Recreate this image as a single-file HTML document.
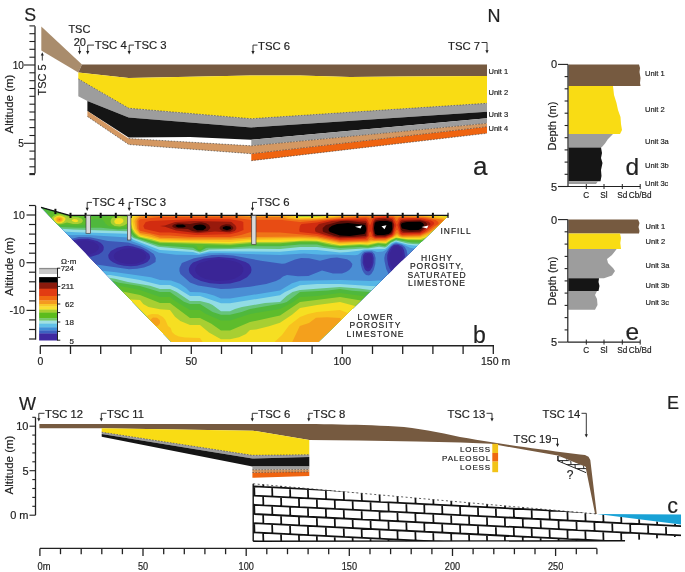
<!DOCTYPE html>
<html><head><meta charset="utf-8"><style>
html,body{margin:0;padding:0;background:#fff;}
body{width:685px;height:572px;overflow:hidden;}
svg{display:block;font-family:"Liberation Sans", Arial, sans-serif;}
text{stroke:#222;stroke-width:0.18px;}
</style></head><body>
<svg width="685" height="572" viewBox="0 0 685 572">
<rect width="685" height="572" fill="#fff"/>
<polygon points="41.3,26.5 82.0,64.4 78.3,72.4 41.3,50.5" fill="#a98c6c" />
<polygon points="82.0,64.4 487.0,64.4 487.0,76.0 400.0,76.5 350.0,77.0 300.0,75.5 250.0,75.5 190.0,76.7 128.7,77.9 78.3,72.4" fill="#765a40" />
<polygon points="78.3,72.4 128.7,77.9 190.0,76.7 250.0,75.5 300.0,75.5 350.0,77.0 400.0,76.5 487.0,76.0 487.0,103.3 251.3,118.7 128.7,108.2 78.3,78.9" fill="#f9dc14" />
<polygon points="78.3,78.9 128.7,108.2 251.3,118.7 487.0,103.3 487.0,111.7 251.3,127.4 128.7,117.4 87.4,100.9 78.3,96.3" fill="#9d9d9d" />
<polygon points="87.4,100.9 128.7,117.4 251.3,127.4 487.0,111.7 487.0,118.3 251.3,139.7 190.0,137.0 128.7,137.6 87.4,111.0" fill="#151515" />
<polygon points="251.3,139.7 487.0,118.3 487.0,123.3 251.3,145.8" fill="#9d9d9d" />
<polygon points="87.4,111.0 128.7,138.5 251.3,145.8 487.0,123.3 487.0,126.7 251.3,153.7 128.7,144.5 87.4,116.5" fill="#d49862" />
<polygon points="251.3,153.7 487.0,126.7 487.0,133.3 251.3,160.7" fill="#ef6410" />
<polyline points="78.3,78.9 128.7,108.2 251.3,118.7 487.0,103.3" fill="none" stroke="#3a3a3a" stroke-width="0.6" stroke-dasharray="1.6,1.4"/>
<polyline points="251.3,145.8 487.0,123.3" fill="none" stroke="#3a3a3a" stroke-width="0.6" stroke-dasharray="1.6,1.4"/>
<polyline points="87.4,116.5 128.7,144.5 251.3,153.7 487.0,126.7" fill="none" stroke="#3a3a3a" stroke-width="0.6" stroke-dasharray="1.6,1.4"/>
<polyline points="251.3,160.7 487.0,133.3" fill="none" stroke="#3a3a3a" stroke-width="0.6" stroke-dasharray="1.6,1.4"/>
<polyline points="128.7,138.5 251.3,145.8" fill="none" stroke="#3a3a3a" stroke-width="0.6" stroke-dasharray="1.6,1.4"/>
<line x1="35.0" y1="26.2" x2="35.0" y2="173.6" stroke="#222" stroke-width="1.3" />
<line x1="29.4" y1="25.9" x2="35.0" y2="25.9" stroke="#222" stroke-width="1.1" />
<line x1="29.4" y1="33.7" x2="35.0" y2="33.7" stroke="#222" stroke-width="1.1" />
<line x1="29.4" y1="41.5" x2="35.0" y2="41.5" stroke="#222" stroke-width="1.1" />
<line x1="29.4" y1="49.3" x2="35.0" y2="49.3" stroke="#222" stroke-width="1.1" />
<line x1="29.4" y1="57.2" x2="35.0" y2="57.2" stroke="#222" stroke-width="1.1" />
<line x1="23.8" y1="65.0" x2="35.0" y2="65.0" stroke="#222" stroke-width="1.1" />
<line x1="29.4" y1="72.8" x2="35.0" y2="72.8" stroke="#222" stroke-width="1.1" />
<line x1="29.4" y1="80.7" x2="35.0" y2="80.7" stroke="#222" stroke-width="1.1" />
<line x1="29.4" y1="88.5" x2="35.0" y2="88.5" stroke="#222" stroke-width="1.1" />
<line x1="29.4" y1="96.3" x2="35.0" y2="96.3" stroke="#222" stroke-width="1.1" />
<line x1="29.4" y1="104.2" x2="35.0" y2="104.2" stroke="#222" stroke-width="1.1" />
<line x1="29.4" y1="112.0" x2="35.0" y2="112.0" stroke="#222" stroke-width="1.1" />
<line x1="29.4" y1="119.8" x2="35.0" y2="119.8" stroke="#222" stroke-width="1.1" />
<line x1="29.4" y1="127.6" x2="35.0" y2="127.6" stroke="#222" stroke-width="1.1" />
<line x1="29.4" y1="135.5" x2="35.0" y2="135.5" stroke="#222" stroke-width="1.1" />
<line x1="23.8" y1="143.3" x2="35.0" y2="143.3" stroke="#222" stroke-width="1.1" />
<line x1="29.4" y1="151.1" x2="35.0" y2="151.1" stroke="#222" stroke-width="1.1" />
<line x1="29.4" y1="159.0" x2="35.0" y2="159.0" stroke="#222" stroke-width="1.1" />
<line x1="29.4" y1="166.8" x2="35.0" y2="166.8" stroke="#222" stroke-width="1.1" />
<line x1="29.4" y1="174.6" x2="35.0" y2="174.6" stroke="#222" stroke-width="1.1" />
<line x1="29.4" y1="173.6" x2="35.0" y2="173.6" stroke="#222" stroke-width="1.1" />
<text x="23.8" y="68.6" font-size="10" text-anchor="end" fill="#222" >10</text>
<text x="23.8" y="146.9" font-size="10" text-anchor="end" fill="#222" >5</text>
<text x="0" y="0" font-size="11.5" text-anchor="middle" fill="#222" transform="translate(13,104) rotate(-90)">Altitude (m)</text>
<text x="0" y="0" font-size="11" text-anchor="middle" fill="#222" transform="translate(46,80) rotate(-90)">TSC 5</text>
<line x1="42.3" y1="60.5" x2="42.3" y2="54.5" stroke="#222" stroke-width="0.9" />
<polygon points="40.8,55.5 43.8,55.5 42.3,52.3" fill="#222"/>
<text x="24.3" y="20.6" font-size="17.8" text-anchor="start" fill="#222" >S</text>
<text x="487.5" y="22.0" font-size="18" text-anchor="start" fill="#222" >N</text>
<text x="68.4" y="32.5" font-size="11" text-anchor="start" fill="#222" >TSC</text>
<text x="73.7" y="45.7" font-size="11" text-anchor="start" fill="#222" >20</text>
<line x1="79.6" y1="46.5" x2="79.6" y2="51.9" stroke="#222" stroke-width="0.9" />
<polygon points="78.0,51.1 81.2,51.1 79.6,54.4" fill="#222"/>
<line x1="87.7" y1="45.1" x2="94.0" y2="45.1" stroke="#222" stroke-width="0.9" />
<line x1="87.7" y1="45.1" x2="87.7" y2="51.9" stroke="#222" stroke-width="0.9" />
<polygon points="86.1,51.1 89.3,51.1 87.7,54.4" fill="#222"/>
<text x="94.7" y="49.2" font-size="11.3" text-anchor="start" fill="#222" >TSC 4</text>
<line x1="129.2" y1="45.1" x2="134.0" y2="45.1" stroke="#222" stroke-width="0.9" />
<line x1="129.2" y1="45.1" x2="129.2" y2="51.9" stroke="#222" stroke-width="0.9" />
<polygon points="127.6,51.1 130.8,51.1 129.2,54.4" fill="#222"/>
<text x="134.5" y="49.2" font-size="11.3" text-anchor="start" fill="#222" >TSC 3</text>
<line x1="253.0" y1="45.1" x2="257.5" y2="45.1" stroke="#222" stroke-width="0.9" />
<line x1="253.0" y1="45.1" x2="253.0" y2="51.9" stroke="#222" stroke-width="0.9" />
<polygon points="251.4,51.1 254.6,51.1 253.0,54.4" fill="#222"/>
<text x="258.0" y="49.5" font-size="11.3" text-anchor="start" fill="#222" >TSC 6</text>
<text x="448.0" y="49.5" font-size="11.3" text-anchor="start" fill="#222" >TSC 7</text>
<line x1="481.5" y1="42.5" x2="487.0" y2="42.5" stroke="#222" stroke-width="0.9" />
<line x1="487.0" y1="42.5" x2="487.0" y2="51.0" stroke="#222" stroke-width="0.9" />
<polygon points="485.4,50.2 488.6,50.2 487.0,53.5" fill="#222"/>
<text x="488.5" y="73.7" font-size="7.5" text-anchor="start" fill="#222" >Unit 1</text>
<text x="488.5" y="95.0" font-size="7.5" text-anchor="start" fill="#222" >Unit 2</text>
<text x="488.5" y="117.0" font-size="7.5" text-anchor="start" fill="#222" >Unit 3</text>
<text x="488.5" y="131.0" font-size="7.5" text-anchor="start" fill="#222" >Unit 4</text>
<text x="473.0" y="175.0" font-size="26" text-anchor="start" fill="#222" >a</text>
<clipPath id="secclip"><polygon points="41.0,207.3 69.5,215.4 447.3,215.4 447.3,216.7 318.3,342.0 171.5,342.0"/></clipPath>
<g clip-path="url(#secclip)">
<rect x="36" y="203" width="416" height="143" fill="#3a2596"/>
<path d="M37.0 203.0L451.0 203.0L451.0 345.0L36.0 345.0L36.0 203.0L37.0 203.0ZM78.1 241.0L73.0 243.5L70.8 247.0L72.0 250.5L76.0 253.2L83.0 254.8L90.0 254.3L95.9 252.0L98.6 249.0L98.9 247.0L98.1 245.0L93.8 242.0L86.0 240.3L78.1 241.0ZM393.4 247.0L389.9 253.0L389.4 259.0L390.2 263.0L392.0 267.0L394.0 269.0L396.0 269.6L399.0 268.2L401.1 265.0L402.5 260.0L402.6 254.0L401.7 250.0L399.4 247.0L396.0 246.1L393.4 247.0ZM122.7 249.0L116.2 252.0L114.4 254.0L113.7 256.0L114.1 258.0L115.6 260.0L120.0 262.5L128.0 264.1L136.0 263.7L143.0 261.3L146.1 258.0L146.2 256.0L145.4 254.0L143.4 252.0L140.0 250.1L130.0 248.2L122.7 249.0ZM367.4 254.0L364.6 256.0L363.9 261.0L365.1 266.0L366.8 268.0L368.0 268.4L370.0 267.3L371.0 265.7L372.1 262.0L372.2 258.0L371.0 254.9L370.0 254.1L367.4 254.0ZM209.9 260.0L199.8 263.0L197.3 265.0L195.4 268.0L195.3 271.0L197.0 274.0L200.9 277.0L205.7 279.0L217.0 280.9L229.5 280.0L235.0 278.4L239.0 276.3L241.7 274.0L243.3 271.0L243.3 268.0L241.5 265.0L238.8 263.0L235.0 261.5L223.0 259.3L209.9 260.0Z" fill="#3b2a9e"/>
<path d="M37.0 203.0L451.0 203.0L451.0 345.0L36.0 345.0L36.0 203.0L37.0 203.0ZM78.6 239.0L74.3 240.0L71.0 241.6L68.3 244.0L67.2 246.0L67.2 249.0L68.2 251.0L73.0 254.6L81.0 256.8L91.0 256.7L99.0 254.2L102.1 252.0L103.5 250.0L103.8 247.0L102.8 245.0L100.9 243.0L97.1 241.0L88.0 238.8L78.6 239.0ZM393.9 245.0L391.4 247.0L388.3 252.0L387.3 255.0L387.2 259.0L388.2 265.0L390.0 269.3L393.0 272.9L396.0 273.9L399.0 272.9L402.2 269.0L404.3 263.0L405.0 256.0L404.0 250.0L402.3 247.0L398.0 244.8L393.9 245.0ZM124.8 246.0L117.0 247.7L110.8 251.0L108.2 255.0L108.6 258.0L109.9 260.0L113.0 262.3L118.0 264.5L124.0 265.8L131.0 266.2L137.0 265.7L143.0 264.1L147.3 262.0L149.8 259.0L150.2 257.0L149.2 254.0L143.0 249.5L133.0 246.6L128.0 245.8L124.8 246.0ZM365.2 253.0L363.9 254.0L362.9 256.0L362.6 263.0L364.6 269.0L366.0 270.7L368.0 271.5L370.0 270.7L372.4 267.0L373.5 263.0L373.7 258.0L372.6 254.0L371.4 253.0L369.0 252.5L365.2 253.0ZM218.7 257.0L204.0 258.6L193.0 262.6L190.5 265.0L189.0 268.0L188.8 270.0L189.6 273.0L194.0 277.7L201.0 281.1L210.0 283.3L220.0 284.1L230.0 283.4L240.0 280.9L247.0 277.3L250.8 273.0L251.5 270.0L251.0 267.0L249.0 264.0L245.5 262.0L234.0 258.3L218.7 257.0Z" fill="#3e58b8"/>
<path d="M37.0 203.0L451.0 203.0L451.0 345.0L36.0 345.0L36.0 203.0L37.0 203.0ZM78.9 237.0L66.8 240.0L62.4 244.0L60.9 248.0L61.6 252.0L64.0 255.2L69.0 258.7L76.0 261.6L129.0 269.3L137.0 268.8L144.0 267.5L150.0 265.3L155.5 262.0L155.8 258.0L153.8 254.0L147.0 249.4L140.0 246.3L128.0 242.6L108.0 241.0L90.0 237.2L78.9 237.0ZM393.8 244.0L390.1 247.0L385.1 254.0L384.3 258.0L384.5 261.0L386.2 269.0L389.1 275.0L393.0 277.1L397.0 277.6L402.0 275.7L404.6 272.0L406.9 265.0L407.8 256.0L406.5 250.0L404.7 247.0L402.1 245.0L399.0 243.9L396.0 243.4L393.8 244.0ZM364.2 252.0L362.1 254.0L361.3 256.0L360.6 260.0L360.9 265.0L362.3 270.0L364.0 273.0L366.0 274.9L369.0 275.4L371.2 274.0L373.7 270.0L375.3 264.0L375.6 258.0L374.5 254.0L372.0 251.6L367.0 251.4L364.2 252.0ZM211.9 255.0L194.0 258.2L181.9 263.0L179.5 268.0L179.4 271.0L180.4 274.0L190.0 282.4L198.0 285.5L221.0 288.9L230.0 288.7L250.0 286.8L266.2 284.0L276.0 280.9L280.0 278.9L283.0 276.5L287.0 274.9L298.0 276.2L308.4 276.0L322.0 270.4L333.0 273.6L342.0 273.4L346.0 272.0L349.2 270.0L351.7 267.0L352.4 264.0L350.0 261.0L347.0 259.3L337.0 257.6L330.7 258.0L320.0 260.8L309.0 258.3L301.0 258.1L295.0 259.4L285.0 263.4L282.0 263.7L261.0 260.7L233.0 255.5L223.0 254.8L211.9 255.0Z" fill="#4a8ed4"/>
<path d="M37.0 203.0L451.0 203.0L451.0 238.0L450.0 238.1L447.9 241.0L445.0 243.4L440.0 245.9L435.0 247.2L420.0 249.8L410.0 247.7L402.0 243.9L396.0 242.4L392.0 244.0L387.0 249.2L383.0 251.5L377.0 252.0L372.0 250.3L365.0 250.5L363.0 251.0L358.0 254.8L355.0 255.2L334.0 254.4L322.0 254.8L304.0 253.4L280.0 255.1L221.0 252.9L208.0 253.3L199.0 255.1L176.0 254.8L159.0 252.8L142.0 245.0L132.0 241.3L128.0 237.6L88.0 235.0L64.0 235.2L36.0 234.0L36.0 203.0L37.0 203.0ZM77.0 269.0L84.9 269.0L116.0 272.2L151.0 277.3L160.0 280.1L171.0 280.5L180.0 283.8L186.0 288.1L190.0 292.1L200.0 292.3L206.0 293.3L214.0 295.4L221.0 298.5L230.0 298.5L280.0 290.5L292.0 283.2L300.0 280.8L340.0 280.1L370.0 281.1L385.0 280.3L405.0 282.0L411.1 285.0L411.1 345.0L67.1 345.0L67.4 272.0L71.0 270.2L77.0 269.0Z" fill="#55b6e6"/>
<path d="M37.0 203.0L451.0 203.0L451.0 232.8L448.5 234.0L444.6 239.0L440.0 241.7L432.0 244.2L420.0 246.2L408.0 244.8L396.0 241.5L392.0 243.0L385.0 248.9L364.0 249.5L359.0 250.8L348.0 252.0L340.0 252.4L317.0 250.0L300.0 249.9L280.0 251.7L210.0 251.2L199.0 253.7L193.0 251.9L160.0 249.9L134.0 240.0L130.0 237.2L128.0 233.8L76.0 232.2L36.0 230.0L36.0 203.0L37.0 203.0ZM81.0 276.0L86.0 275.3L110.0 275.1L140.0 280.0L160.0 285.0L170.0 285.1L177.0 288.1L190.0 296.0L200.0 296.1L221.0 303.3L230.0 303.3L280.0 295.2L285.0 292.0L300.0 285.3L317.0 284.1L340.0 284.0L370.0 286.0L391.0 286.4L394.2 288.0L394.9 291.0L395.0 345.0L80.0 345.0L80.0 280.0L80.3 277.0L81.0 276.0Z" fill="#92dce4"/>
<path d="M37.0 203.0L451.0 203.0L451.0 230.2L450.0 230.2L440.0 238.8L430.0 242.5L420.0 244.3L413.0 243.9L408.0 243.4L396.0 240.6L391.0 242.8L387.0 246.6L385.0 247.5L379.0 246.8L368.0 248.6L363.0 248.4L340.0 250.0L317.0 247.1L300.0 247.0L280.0 248.9L250.0 248.6L209.0 249.6L200.0 252.4L193.0 250.1L158.0 246.8L134.0 238.3L131.9 237.0L128.0 231.3L73.0 229.6L36.0 227.3L36.0 203.0L37.0 203.0ZM101.0 278.9L110.0 278.0L115.0 278.7L128.0 282.0L150.0 285.7L160.0 289.0L170.0 289.0L176.6 292.0L190.0 301.0L200.0 301.0L209.0 303.3L212.6 305.0L221.0 311.3L230.0 311.3L235.0 308.9L242.0 307.1L265.0 303.0L280.0 302.0L286.5 296.0L292.5 292.0L300.0 290.0L340.0 287.0L359.0 288.4L380.0 291.3L382.5 292.0L385.4 295.0L388.9 303.0L390.0 310.0L390.0 345.0L86.0 345.0L86.0 294.0L88.3 287.0L90.9 283.0L95.0 280.0L101.0 278.9Z" fill="#66c47c"/>
<path d="M37.0 203.0L451.0 203.0L451.0 229.1L447.1 230.0L438.0 237.5L429.0 240.9L420.0 242.8L411.0 242.4L396.0 239.6L391.0 242.0L385.0 246.3L379.0 245.2L368.0 247.6L361.0 247.1L340.0 248.1L324.0 246.3L317.0 244.6L300.0 244.4L280.0 246.3L250.0 246.2L230.0 247.7L208.0 247.7L206.0 248.1L200.0 251.2L198.0 250.8L193.0 247.8L160.0 245.5L150.0 242.6L134.0 237.0L128.0 229.0L118.0 229.4L101.0 227.7L78.0 227.7L59.0 226.9L40.0 223.0L36.0 223.0L36.0 203.0L37.0 203.0ZM107.0 280.9L110.0 280.0L119.0 282.7L140.0 286.0L160.0 292.0L170.0 292.0L184.0 301.7L190.0 304.0L200.0 304.0L212.6 312.0L221.0 314.7L230.0 314.7L241.6 312.0L250.0 309.0L283.0 303.2L286.7 302.0L300.0 292.1L328.0 290.4L340.0 289.0L352.0 290.7L370.0 292.0L375.8 295.0L380.0 298.7L382.5 302.0L384.5 308.0L385.0 310.0L385.0 345.0L92.0 345.0L92.0 294.0L95.0 289.0L98.8 285.0L107.0 280.9Z" fill="#4fb83c"/>
<path d="M128.0 203.0L451.0 203.0L451.0 228.1L444.0 230.0L436.9 236.0L434.0 237.5L424.0 240.7L420.0 241.4L408.0 241.2L396.0 238.7L391.0 241.2L386.0 244.9L378.0 244.2L368.0 246.7L361.0 246.0L340.0 246.7L326.0 245.2L317.0 242.7L300.0 242.5L280.0 244.4L250.0 244.4L230.0 245.9L206.0 245.6L204.0 246.0L201.7 249.0L200.0 249.7L198.2 249.0L196.4 246.0L194.0 245.2L160.0 243.8L139.0 238.1L136.1 237.0L134.0 235.1L128.0 226.8L118.0 227.8L108.4 226.0L105.9 224.0L103.0 220.1L100.0 218.4L94.0 218.4L92.0 219.3L87.3 224.0L76.0 225.7L67.0 224.8L57.0 225.2L53.0 223.7L44.2 218.0L45.0 215.0L46.0 213.9L53.0 211.8L60.0 210.9L91.0 217.6L103.0 217.5L114.0 214.4L126.6 212.0L127.7 210.0L128.0 203.0ZM109.0 284.5L110.0 284.0L140.0 290.0L160.0 297.0L170.0 297.0L175.0 301.0L190.0 310.0L200.0 310.0L205.0 313.4L221.0 320.6L230.0 320.6L250.0 314.0L280.0 309.0L293.3 302.0L300.0 297.0L317.0 296.0L340.0 293.0L370.0 297.0L376.3 302.0L380.0 310.0L380.0 345.0L98.0 345.0L98.0 294.0L103.0 288.6L109.0 284.5Z" fill="#5ebc2c"/>
<path d="M132.0 203.0L293.3 203.0L293.4 214.0L300.0 215.5L317.0 215.3L334.6 214.0L338.8 210.0L340.0 203.0L435.0 203.0L435.1 210.0L436.1 214.0L451.0 215.5L451.0 227.1L441.1 230.0L433.6 236.0L422.0 239.9L408.0 240.1L396.0 238.1L391.0 240.4L386.0 244.0L378.0 243.3L368.0 245.6L361.0 244.9L340.0 246.0L331.5 245.0L317.0 241.7L310.0 241.6L300.0 241.5L280.0 243.2L250.0 243.2L230.0 244.7L160.0 242.8L138.2 237.0L133.8 233.0L128.0 222.9L124.0 225.5L120.0 226.4L114.7 226.0L111.6 224.0L110.6 222.0L110.8 220.0L111.9 218.0L113.0 217.4L119.0 216.1L128.0 216.9L131.9 214.0L132.0 203.0ZM56.0 214.7L60.0 214.1L68.0 216.6L78.0 217.2L82.0 218.8L83.0 221.0L81.4 223.0L78.0 224.1L73.1 224.0L67.0 222.5L61.0 224.2L58.0 224.2L53.4 222.0L51.4 218.0L53.4 216.0L56.0 214.7ZM109.0 289.7L110.0 289.0L140.0 295.0L160.0 303.0L170.0 303.0L190.0 318.0L200.0 318.0L211.0 323.4L221.0 330.5L230.0 330.5L250.0 322.0L280.0 315.5L300.0 302.0L340.0 297.0L370.0 302.0L375.0 310.0L375.0 345.0L104.0 345.0L104.0 294.0L109.0 289.7Z" fill="#a8cf32"/>
<path d="M136.0 203.0L286.7 203.0L286.7 214.0L300.0 216.9L317.0 216.7L350.7 214.0L353.1 212.0L354.2 210.0L355.0 203.0L420.0 203.0L420.4 210.0L421.3 212.0L423.3 214.0L451.0 217.0L451.0 226.1L441.0 228.8L430.3 236.0L420.0 239.2L406.0 239.0L396.0 237.4L391.0 239.6L386.0 242.9L378.0 242.4L368.0 244.5L360.0 244.0L340.0 245.2L317.0 240.8L305.0 240.5L280.0 242.0L250.0 242.0L230.0 243.6L160.0 241.8L151.0 238.9L140.0 236.8L135.4 233.0L132.7 229.0L130.3 222.0L130.2 218.0L136.0 214.0L136.0 203.0ZM57.0 215.9L60.0 215.5L63.0 216.5L65.4 218.0L65.3 220.0L63.6 222.0L61.0 223.2L58.0 223.3L56.0 222.5L54.4 221.0L53.8 218.0L57.0 215.9ZM74.0 218.9L77.0 219.4L78.4 221.0L77.1 222.0L75.0 222.2L72.0 221.0L71.8 220.0L74.0 218.9ZM116.0 218.8L119.0 218.0L122.0 218.6L123.4 220.0L123.3 222.0L120.0 224.2L116.0 223.9L114.7 223.0L114.2 221.0L116.0 218.8ZM111.0 298.0L128.0 298.0L131.0 299.5L140.0 300.0L143.2 304.0L148.5 307.0L160.0 309.3L170.0 309.9L175.0 316.8L180.3 321.0L190.0 325.0L200.0 325.0L209.0 332.5L221.0 339.2L230.0 339.2L239.0 337.3L246.0 334.1L250.0 330.0L256.0 329.4L269.0 326.3L280.0 322.7L292.0 314.7L300.0 308.0L317.0 305.0L340.0 302.0L370.0 310.0L370.0 345.0L110.0 345.0L110.0 299.0L111.0 298.0Z" fill="#f6df22"/>
<path d="M140.0 203.0L280.0 203.0L280.0 214.0L300.0 218.0L317.0 217.7L365.6 214.0L368.8 210.0L369.9 203.0L395.1 203.0L396.3 211.0L395.5 214.0L420.0 214.7L451.0 218.2L451.0 225.1L441.0 227.5L435.9 230.0L434.0 232.0L427.0 236.0L420.0 238.1L403.0 238.1L397.0 236.2L390.6 239.0L386.0 241.9L378.0 241.6L372.0 242.1L367.0 243.5L360.0 243.0L340.0 244.2L317.0 239.7L301.0 239.3L250.0 240.0L230.0 242.0L160.0 240.5L140.0 235.5L136.9 233.0L134.2 229.0L132.3 221.0L133.2 218.0L134.3 217.0L140.0 214.0L140.0 203.0ZM57.0 217.0L60.0 216.5L63.0 217.9L63.4 219.0L62.8 221.0L60.0 222.6L56.9 222.0L55.7 221.0L55.2 219.0L55.4 218.0L57.0 217.0ZM340.0 310.0L349.0 313.4L355.0 318.0L355.0 345.0L271.4 345.0L282.0 334.9L289.0 325.6L300.0 317.0L308.0 314.1L317.0 311.9L340.0 310.0ZM152.0 313.9L158.0 314.3L162.9 317.0L165.4 320.0L168.0 325.9L170.7 328.0L172.0 332.0L175.0 334.8L179.0 336.4L185.0 337.5L200.0 338.0L204.6 345.0L150.0 345.0L152.2 338.0L152.2 336.0L145.0 328.5L143.7 325.0L143.5 322.0L144.3 319.0L145.7 317.0L148.4 315.0L152.0 313.9Z" fill="#f8c21e"/>
<path d="M160.0 203.0L161.0 204.0L164.0 204.0L165.0 203.0L230.0 203.0L230.0 214.0L250.0 215.5L280.0 215.5L291.0 217.9L300.0 218.9L317.0 218.6L340.0 216.4L379.0 214.2L392.0 214.5L397.0 215.8L401.0 215.1L420.0 215.7L451.0 219.3L451.0 224.1L440.0 226.5L434.0 229.7L429.0 233.4L420.0 237.1L402.0 237.3L400.0 236.9L397.0 234.8L386.0 240.9L371.0 241.1L367.0 242.3L360.0 242.1L340.0 243.0L317.0 238.5L300.0 237.8L250.0 238.5L230.0 240.0L190.0 240.0L160.0 239.1L140.0 234.2L135.8 229.0L134.4 221.0L135.4 219.0L137.2 217.0L140.0 215.5L160.0 214.0L160.5 212.0L160.0 203.0ZM58.0 217.6L61.4 218.0L61.9 220.0L61.2 221.0L59.0 221.7L57.2 221.0L56.5 219.0L58.0 217.6ZM153.0 317.6L157.0 317.8L159.7 320.0L160.1 323.0L158.0 325.7L154.0 326.2L150.4 324.0L149.7 322.0L150.0 320.0L153.0 317.6ZM316.0 317.8L327.0 317.3L340.6 318.0L342.1 332.0L340.7 345.0L290.8 345.0L299.8 326.0L309.0 323.1L316.0 317.8Z" fill="#f4a01c"/>
<path d="M154.0 216.0L230.0 215.6L250.0 217.0L280.0 217.0L288.0 218.9L300.0 219.9L317.0 219.6L344.0 217.1L366.0 216.2L370.0 216.6L375.0 215.5L385.0 215.2L392.0 215.6L397.0 217.4L402.0 216.2L425.0 217.1L444.5 220.0L444.6 222.0L443.7 224.0L437.0 226.4L429.1 232.0L420.0 236.1L402.0 236.5L400.0 235.7L397.0 232.9L392.8 237.0L385.0 240.0L374.0 240.2L371.0 239.4L367.0 241.2L340.0 241.9L317.0 237.2L305.0 236.4L250.0 237.0L230.0 238.5L190.0 238.5L160.0 237.7L150.0 234.6L140.0 232.9L137.3 229.0L136.8 226.0L136.5 221.0L137.8 219.0L140.0 217.0L154.0 216.0ZM59.0 218.7L60.2 219.0L60.0 220.2L58.4 220.0L59.0 218.7Z" fill="#ef7418"/>
<path d="M160.0 217.0L230.0 217.2L250.0 219.7L280.0 219.7L300.0 222.0L349.0 217.8L366.0 217.2L369.3 218.0L370.0 219.4L371.0 218.0L374.0 216.7L384.0 216.1L393.0 216.9L394.8 218.0L396.0 220.7L397.0 221.0L398.8 218.0L401.0 217.2L425.0 218.0L435.6 220.0L438.4 222.0L438.5 223.0L438.4 224.0L434.0 226.4L426.7 232.0L420.0 234.9L402.0 235.5L399.5 234.0L398.0 230.6L397.0 230.1L396.0 230.5L394.4 234.0L392.0 236.6L386.0 238.7L375.0 239.1L371.0 236.9L370.0 237.0L367.4 240.0L366.0 240.3L346.0 240.7L340.0 240.8L316.0 235.7L280.0 232.4L250.0 232.3L241.0 234.9L230.0 237.0L190.0 237.0L170.0 235.5L160.0 235.4L140.0 230.7L138.8 229.0L138.4 221.0L140.0 219.2L160.0 217.0Z" fill="#e84c14"/>
<path d="M374.0 217.7L384.0 217.0L393.0 218.0L396.5 225.0L393.0 234.7L391.0 236.2L386.0 237.9L375.0 238.1L372.2 236.0L371.0 232.1L370.0 231.5L369.0 233.4L368.8 236.0L366.0 238.8L340.0 239.7L317.0 234.1L299.7 232.0L299.2 230.0L299.9 226.0L301.5 224.0L317.0 222.6L327.0 220.6L340.0 219.2L366.0 218.6L367.6 220.0L370.0 225.6L373.0 218.6L374.0 217.7ZM196.0 219.0L230.0 219.3L241.1 221.0L243.3 222.0L243.5 230.0L238.0 232.3L230.0 234.3L196.0 234.9L170.0 232.5L160.0 232.5L144.6 229.0L143.3 226.0L145.7 222.0L150.0 221.0L196.0 219.0ZM401.0 218.4L413.0 218.0L422.0 218.6L431.0 220.6L433.6 222.0L434.3 224.0L424.3 232.0L420.0 233.7L402.0 234.4L400.8 234.0L400.0 232.6L397.2 225.0L399.4 220.0L401.0 218.4Z" fill="#d22c10"/>
<path d="M379.0 218.0L388.0 218.2L391.0 218.7L392.8 220.0L394.4 225.0L393.2 232.0L392.0 234.6L385.0 237.2L376.0 237.3L373.5 236.0L372.2 229.0L373.1 222.0L375.0 218.8L379.0 218.0ZM402.0 219.8L420.0 219.5L429.0 221.8L430.7 224.0L427.1 228.0L420.0 232.7L403.0 233.1L400.9 232.0L399.1 225.0L400.0 221.2L402.0 219.8ZM194.0 221.0L230.0 221.7L231.5 222.0L235.1 225.0L236.3 227.0L236.3 229.0L234.8 231.0L230.0 232.5L215.0 231.6L198.0 233.3L176.0 230.5L165.0 226.7L159.9 226.0L165.0 225.5L175.1 222.0L194.0 221.0ZM332.0 221.0L346.0 220.0L366.0 220.7L367.4 223.0L367.9 226.0L367.5 236.0L365.0 237.6L340.0 238.3L329.1 236.0L315.7 232.0L314.9 230.0L315.2 228.0L319.0 224.0L332.0 221.0Z" fill="#981a0c"/>
<path d="M377.0 219.9L385.0 219.3L392.0 220.9L393.5 224.0L393.5 226.0L392.7 231.0L391.3 234.0L385.0 236.2L375.0 236.0L373.4 231.0L373.4 224.0L375.0 220.7L377.0 219.9ZM341.0 221.0L352.0 221.3L365.9 223.0L367.1 229.0L366.0 235.8L353.0 237.0L340.0 237.0L334.7 236.0L323.4 232.0L322.7 231.0L322.7 228.0L326.0 224.9L341.0 221.0ZM405.0 220.9L420.0 220.6L425.5 222.0L427.4 224.0L425.7 227.0L420.0 231.4L412.0 232.0L403.0 231.4L401.0 229.8L400.0 224.0L401.0 221.9L405.0 220.9ZM195.0 222.9L201.0 222.3L206.0 223.3L209.1 225.0L210.4 228.0L207.7 231.0L198.0 231.9L192.2 231.0L188.0 229.0L176.0 228.5L173.0 227.2L172.0 226.0L174.0 224.3L178.0 223.2L190.0 223.9L195.0 222.9ZM223.0 224.9L226.0 224.3L230.0 224.6L233.2 227.0L233.2 229.0L230.0 231.2L226.0 231.4L222.0 230.7L220.0 229.2L219.5 228.0L220.7 226.0L223.0 224.9Z" fill="#5a0c06"/>
<path d="M380.0 220.9L387.0 221.0L391.0 221.9L392.0 222.8L392.3 229.0L391.0 232.3L388.6 234.0L384.0 235.0L377.2 235.0L375.1 234.0L373.9 228.0L374.8 223.0L376.0 221.8L380.0 220.9ZM407.0 222.0L420.0 221.7L422.9 223.0L424.1 225.0L422.2 228.0L418.5 230.0L410.0 230.3L402.0 228.6L401.0 226.0L401.2 224.0L402.3 223.0L407.0 222.0ZM337.0 224.0L348.0 223.0L364.0 224.7L365.0 225.0L365.9 227.0L366.0 231.1L365.0 233.4L364.0 233.9L349.9 236.0L340.0 235.6L329.8 232.0L328.5 230.0L329.0 227.9L332.0 225.7L337.0 224.0ZM177.0 224.7L183.0 224.5L185.9 226.0L185.0 227.0L183.0 227.6L178.0 227.6L175.2 226.0L177.0 224.7ZM196.0 225.0L200.0 224.4L203.0 224.7L205.5 226.0L206.2 228.0L203.0 230.3L197.0 230.3L193.4 228.0L193.2 227.0L193.9 226.0L196.0 225.0ZM226.0 225.9L230.0 226.5L231.1 228.0L230.6 229.0L227.0 230.2L223.2 229.0L222.6 228.0L223.1 227.0L226.0 225.9Z" fill="#000000"/>
<polygon points="355.0,226.8 362.0,225.6 360.5,228.4" fill="#fff" />
<polygon points="381.5,226.2 386.5,225.2 384.5,229.3" fill="#fff" />
<polygon points="421.5,227.0 428.5,225.4 427.0,228.4" fill="#fff" />
</g>
<polyline points="41,207.3 69.5,215.4 448.3,215.4" fill="none" stroke="#111" stroke-width="1.3"/>
<line x1="55.4" y1="208.8" x2="55.4" y2="214.0" stroke="#111" stroke-width="2" />
<line x1="70.5" y1="212.8" x2="70.5" y2="218.0" stroke="#111" stroke-width="2" />
<line x1="85.6" y1="212.8" x2="85.6" y2="218.0" stroke="#111" stroke-width="2" />
<line x1="100.7" y1="212.8" x2="100.7" y2="218.0" stroke="#111" stroke-width="2" />
<line x1="115.8" y1="212.8" x2="115.8" y2="218.0" stroke="#111" stroke-width="2" />
<line x1="130.9" y1="212.8" x2="130.9" y2="218.0" stroke="#111" stroke-width="2" />
<line x1="146.0" y1="212.8" x2="146.0" y2="218.0" stroke="#111" stroke-width="2" />
<line x1="161.1" y1="212.8" x2="161.1" y2="218.0" stroke="#111" stroke-width="2" />
<line x1="176.2" y1="212.8" x2="176.2" y2="218.0" stroke="#111" stroke-width="2" />
<line x1="191.3" y1="212.8" x2="191.3" y2="218.0" stroke="#111" stroke-width="2" />
<line x1="206.4" y1="212.8" x2="206.4" y2="218.0" stroke="#111" stroke-width="2" />
<line x1="221.5" y1="212.8" x2="221.5" y2="218.0" stroke="#111" stroke-width="2" />
<line x1="236.6" y1="212.8" x2="236.6" y2="218.0" stroke="#111" stroke-width="2" />
<line x1="251.7" y1="212.8" x2="251.7" y2="218.0" stroke="#111" stroke-width="2" />
<line x1="266.8" y1="212.8" x2="266.8" y2="218.0" stroke="#111" stroke-width="2" />
<line x1="281.9" y1="212.8" x2="281.9" y2="218.0" stroke="#111" stroke-width="2" />
<line x1="297.0" y1="212.8" x2="297.0" y2="218.0" stroke="#111" stroke-width="2" />
<line x1="312.1" y1="212.8" x2="312.1" y2="218.0" stroke="#111" stroke-width="2" />
<line x1="327.2" y1="212.8" x2="327.2" y2="218.0" stroke="#111" stroke-width="2" />
<line x1="342.3" y1="212.8" x2="342.3" y2="218.0" stroke="#111" stroke-width="2" />
<line x1="357.4" y1="212.8" x2="357.4" y2="218.0" stroke="#111" stroke-width="2" />
<line x1="372.5" y1="212.8" x2="372.5" y2="218.0" stroke="#111" stroke-width="2" />
<line x1="387.6" y1="212.8" x2="387.6" y2="218.0" stroke="#111" stroke-width="2" />
<line x1="402.7" y1="212.8" x2="402.7" y2="218.0" stroke="#111" stroke-width="2" />
<line x1="417.8" y1="212.8" x2="417.8" y2="218.0" stroke="#111" stroke-width="2" />
<line x1="432.9" y1="212.8" x2="432.9" y2="218.0" stroke="#111" stroke-width="2" />
<line x1="448.0" y1="212.8" x2="448.0" y2="218.0" stroke="#111" stroke-width="1.2" />
<rect x="86" y="215.4" width="4.4" height="17.9" fill="#d9d9d9" stroke="#444" stroke-width="0.7"/>
<rect x="127.4" y="215.4" width="3.5" height="24.6" fill="#d9d9d9" stroke="#444" stroke-width="0.7"/>
<rect x="251.7" y="215.4" width="4.3" height="28.9" fill="#d9d9d9" stroke="#444" stroke-width="0.7"/>
<line x1="87.2" y1="202.4" x2="92.0" y2="202.4" stroke="#222" stroke-width="0.9" />
<line x1="87.2" y1="202.4" x2="87.2" y2="208.5" stroke="#222" stroke-width="0.9" />
<polygon points="85.6,207.7 88.8,207.7 87.2,211.0" fill="#222"/>
<text x="92.5" y="206.3" font-size="11.3" text-anchor="start" fill="#222" >TSC 4</text>
<line x1="129.2" y1="202.4" x2="133.5" y2="202.4" stroke="#222" stroke-width="0.9" />
<line x1="129.2" y1="202.4" x2="129.2" y2="208.5" stroke="#222" stroke-width="0.9" />
<polygon points="127.6,207.7 130.8,207.7 129.2,211.0" fill="#222"/>
<text x="134.0" y="206.3" font-size="11.3" text-anchor="start" fill="#222" >TSC 3</text>
<line x1="252.5" y1="202.4" x2="257.0" y2="202.4" stroke="#222" stroke-width="0.9" />
<line x1="252.5" y1="202.4" x2="252.5" y2="208.5" stroke="#222" stroke-width="0.9" />
<polygon points="250.9,207.7 254.1,207.7 252.5,211.0" fill="#222"/>
<text x="257.5" y="206.3" font-size="11.3" text-anchor="start" fill="#222" >TSC 6</text>
<line x1="35.6" y1="205.8" x2="35.6" y2="339.6" stroke="#222" stroke-width="1.3" />
<line x1="29.0" y1="205.5" x2="35.6" y2="205.5" stroke="#222" stroke-width="1.2" />
<line x1="26.5" y1="215.0" x2="35.6" y2="215.0" stroke="#222" stroke-width="1.2" />
<line x1="29.0" y1="224.5" x2="35.6" y2="224.5" stroke="#222" stroke-width="1.2" />
<line x1="29.0" y1="234.1" x2="35.6" y2="234.1" stroke="#222" stroke-width="1.2" />
<line x1="29.0" y1="243.6" x2="35.6" y2="243.6" stroke="#222" stroke-width="1.2" />
<line x1="29.0" y1="253.2" x2="35.6" y2="253.2" stroke="#222" stroke-width="1.2" />
<line x1="26.5" y1="262.7" x2="35.6" y2="262.7" stroke="#222" stroke-width="1.2" />
<line x1="29.0" y1="272.2" x2="35.6" y2="272.2" stroke="#222" stroke-width="1.2" />
<line x1="29.0" y1="281.8" x2="35.6" y2="281.8" stroke="#222" stroke-width="1.2" />
<line x1="29.0" y1="291.3" x2="35.6" y2="291.3" stroke="#222" stroke-width="1.2" />
<line x1="29.0" y1="300.9" x2="35.6" y2="300.9" stroke="#222" stroke-width="1.2" />
<line x1="26.5" y1="310.4" x2="35.6" y2="310.4" stroke="#222" stroke-width="1.2" />
<line x1="29.0" y1="319.9" x2="35.6" y2="319.9" stroke="#222" stroke-width="1.2" />
<line x1="29.0" y1="329.5" x2="35.6" y2="329.5" stroke="#222" stroke-width="1.2" />
<line x1="29.0" y1="339.0" x2="35.6" y2="339.0" stroke="#222" stroke-width="1.2" />
<text x="24.8" y="218.8" font-size="10.5" text-anchor="end" fill="#222" >10</text>
<text x="24.8" y="266.5" font-size="10.5" text-anchor="end" fill="#222" >0</text>
<text x="24.8" y="314.4" font-size="10.5" text-anchor="end" fill="#222" >-10</text>
<text x="0" y="0" font-size="11.5" text-anchor="middle" fill="#222" transform="translate(12.8,266.5) rotate(-90)">Altitude (m)</text>
<line x1="40.3" y1="345.8" x2="494.0" y2="345.8" stroke="#222" stroke-width="1.4" />
<line x1="40.3" y1="345.8" x2="40.3" y2="354.0" stroke="#222" stroke-width="1.3" />
<line x1="70.5" y1="345.8" x2="70.5" y2="354.0" stroke="#222" stroke-width="1.3" />
<line x1="100.7" y1="345.8" x2="100.7" y2="354.0" stroke="#222" stroke-width="1.3" />
<line x1="130.9" y1="345.8" x2="130.9" y2="354.0" stroke="#222" stroke-width="1.3" />
<line x1="161.1" y1="345.8" x2="161.1" y2="354.0" stroke="#222" stroke-width="1.3" />
<line x1="191.3" y1="345.8" x2="191.3" y2="354.0" stroke="#222" stroke-width="1.3" />
<line x1="221.5" y1="345.8" x2="221.5" y2="354.0" stroke="#222" stroke-width="1.3" />
<line x1="251.7" y1="345.8" x2="251.7" y2="354.0" stroke="#222" stroke-width="1.3" />
<line x1="281.9" y1="345.8" x2="281.9" y2="354.0" stroke="#222" stroke-width="1.3" />
<line x1="312.1" y1="345.8" x2="312.1" y2="354.0" stroke="#222" stroke-width="1.3" />
<line x1="342.3" y1="345.8" x2="342.3" y2="354.0" stroke="#222" stroke-width="1.3" />
<line x1="372.5" y1="345.8" x2="372.5" y2="354.0" stroke="#222" stroke-width="1.3" />
<line x1="402.7" y1="345.8" x2="402.7" y2="354.0" stroke="#222" stroke-width="1.3" />
<line x1="432.9" y1="345.8" x2="432.9" y2="354.0" stroke="#222" stroke-width="1.3" />
<line x1="463.1" y1="345.8" x2="463.1" y2="354.0" stroke="#222" stroke-width="1.3" />
<line x1="493.3" y1="345.8" x2="493.3" y2="354.0" stroke="#222" stroke-width="1.3" />
<text x="40.3" y="365.0" font-size="10.5" text-anchor="middle" fill="#222" >0</text>
<text x="191.3" y="365.0" font-size="10.5" text-anchor="middle" fill="#222" >50</text>
<text x="342.3" y="365.0" font-size="10.5" text-anchor="middle" fill="#222" >100</text>
<text x="481.0" y="365.0" font-size="10.5" text-anchor="start" fill="#222" >150 m</text>
<rect x="39.1" y="267.9" width="18.1" height="1.8" fill="#8c8c8c"/>
<rect x="39.1" y="269.4" width="18.1" height="4.9" fill="#c8c8c8"/>
<rect x="39.1" y="274.0" width="18.1" height="3.4" fill="#ffffff"/>
<rect x="39.1" y="277.1" width="18.1" height="5.8" fill="#000000"/>
<rect x="39.1" y="282.6" width="18.1" height="6.4" fill="#8a1a0c"/>
<rect x="39.1" y="288.7" width="18.1" height="7.6" fill="#e23c12"/>
<rect x="39.1" y="296.0" width="18.1" height="4.7" fill="#f06a10"/>
<rect x="39.1" y="300.4" width="18.1" height="3.9" fill="#f49a20"/>
<rect x="39.1" y="304.0" width="18.1" height="2.8" fill="#f8c828"/>
<rect x="39.1" y="306.5" width="18.1" height="3.4" fill="#f8e030"/>
<rect x="39.1" y="309.6" width="18.1" height="3.3" fill="#a8d030"/>
<rect x="39.1" y="312.6" width="18.1" height="5.8" fill="#5cbc1c"/>
<rect x="39.1" y="318.1" width="18.1" height="2.8" fill="#74c868"/>
<rect x="39.1" y="320.6" width="18.1" height="3.4" fill="#a0e0e2"/>
<rect x="39.1" y="323.7" width="18.1" height="3.9" fill="#60c0e8"/>
<rect x="39.1" y="327.3" width="18.1" height="3.4" fill="#4090d8"/>
<rect x="39.1" y="330.4" width="18.1" height="3.4" fill="#3c60c0"/>
<rect x="39.1" y="333.5" width="18.1" height="7.0" fill="#3f28a0"/>
<line x1="57.5" y1="267.9" x2="57.5" y2="340.7" stroke="#222" stroke-width="1" />
<line x1="57.5" y1="268.2" x2="60.3" y2="268.2" stroke="#222" stroke-width="1" />
<line x1="57.5" y1="277.4" x2="60.3" y2="277.4" stroke="#222" stroke-width="1" />
<line x1="57.5" y1="286.4" x2="60.3" y2="286.4" stroke="#222" stroke-width="1" />
<line x1="57.5" y1="294.9" x2="60.3" y2="294.9" stroke="#222" stroke-width="1" />
<line x1="57.5" y1="304.0" x2="60.3" y2="304.0" stroke="#222" stroke-width="1" />
<line x1="57.5" y1="312.6" x2="60.3" y2="312.6" stroke="#222" stroke-width="1" />
<line x1="57.5" y1="322.0" x2="60.3" y2="322.0" stroke="#222" stroke-width="1" />
<line x1="57.5" y1="331.4" x2="60.3" y2="331.4" stroke="#222" stroke-width="1" />
<line x1="57.5" y1="340.2" x2="60.3" y2="340.2" stroke="#222" stroke-width="1" />
<text x="61.0" y="264.0" font-size="8" text-anchor="start" fill="#222" >Ω·m</text>
<text x="74.0" y="271.2" font-size="8" text-anchor="end" fill="#222" >724</text>
<text x="74.0" y="289.4" font-size="8" text-anchor="end" fill="#222" >211</text>
<text x="74.0" y="307.0" font-size="8" text-anchor="end" fill="#222" >62</text>
<text x="74.0" y="324.8" font-size="8" text-anchor="end" fill="#222" >18</text>
<text x="74.0" y="343.5" font-size="8" text-anchor="end" fill="#222" >5</text>
<text x="440.5" y="233.9" font-size="8.4" text-anchor="start" fill="#222" letter-spacing="1.0" stroke="#222" stroke-width="0.2">INFILL</text>
<text x="437.0" y="260.5" font-size="8.5" text-anchor="middle" fill="#222" letter-spacing="1.0" stroke="#222" stroke-width="0.2">HIGHY</text>
<text x="437.0" y="269.2" font-size="8.5" text-anchor="middle" fill="#222" letter-spacing="1.0" stroke="#222" stroke-width="0.2">POROSITY,</text>
<text x="437.0" y="277.7" font-size="8.5" text-anchor="middle" fill="#222" letter-spacing="1.0" stroke="#222" stroke-width="0.2">SATURATED</text>
<text x="437.0" y="286.2" font-size="8.5" text-anchor="middle" fill="#222" letter-spacing="1.0" stroke="#222" stroke-width="0.2">LIMESTONE</text>
<text x="375.5" y="319.5" font-size="8.5" text-anchor="middle" fill="#222" letter-spacing="1.0" stroke="#222" stroke-width="0.2">LOWER</text>
<text x="375.5" y="328.0" font-size="8.5" text-anchor="middle" fill="#222" letter-spacing="1.0" stroke="#222" stroke-width="0.2">POROSITY</text>
<text x="375.5" y="336.8" font-size="8.5" text-anchor="middle" fill="#222" letter-spacing="1.0" stroke="#222" stroke-width="0.2">LIMESTONE</text>
<text x="473.0" y="342.7" font-size="23" text-anchor="start" fill="#222" >b</text>
<polygon points="568.5,64.4 639.0,64.4 640.0,68.0 639.5,72.0 640.5,78.0 640.0,83.0 640.5,86.0 568.5,86.0" fill="#765a40" />
<polygon points="568.5,86.0 613.0,86.0 614.0,95.0 616.5,103.0 618.0,110.0 620.5,117.0 621.0,124.0 622.0,130.0 620.0,134.0 568.5,134.0" fill="#f9dc14" />
<polygon points="568.5,134.0 613.0,134.0 608.0,139.0 605.0,143.5 601.5,147.6 568.5,147.6" fill="#9d9d9d" />
<polygon points="568.5,147.6 601.0,147.6 602.0,153.0 601.0,158.0 602.5,163.0 601.0,170.0 601.5,176.0 600.5,181.2 568.5,181.2" fill="#151515" />
<polygon points="568.5,181.2 598.0,181.2 596.0,184.0 568.5,184.0" fill="#9d9d9d" />
<line x1="568.0" y1="64.4" x2="568.0" y2="186.5" stroke="#222" stroke-width="1.2" />
<line x1="558.0" y1="64.4" x2="568.0" y2="64.4" stroke="#222" stroke-width="1.1" />
<line x1="564.6" y1="76.6" x2="568.0" y2="76.6" stroke="#222" stroke-width="1.1" />
<line x1="564.6" y1="88.8" x2="568.0" y2="88.8" stroke="#222" stroke-width="1.1" />
<line x1="564.6" y1="101.0" x2="568.0" y2="101.0" stroke="#222" stroke-width="1.1" />
<line x1="564.6" y1="113.2" x2="568.0" y2="113.2" stroke="#222" stroke-width="1.1" />
<line x1="564.6" y1="125.5" x2="568.0" y2="125.5" stroke="#222" stroke-width="1.1" />
<line x1="564.6" y1="137.7" x2="568.0" y2="137.7" stroke="#222" stroke-width="1.1" />
<line x1="564.6" y1="149.9" x2="568.0" y2="149.9" stroke="#222" stroke-width="1.1" />
<line x1="564.6" y1="162.1" x2="568.0" y2="162.1" stroke="#222" stroke-width="1.1" />
<line x1="564.6" y1="174.3" x2="568.0" y2="174.3" stroke="#222" stroke-width="1.1" />
<line x1="558.0" y1="186.5" x2="568.0" y2="186.5" stroke="#222" stroke-width="1.1" />
<line x1="568.0" y1="186.5" x2="640.2" y2="186.5" stroke="#222" stroke-width="1.2" />
<line x1="586.3" y1="184.0" x2="586.3" y2="189.0" stroke="#222" stroke-width="1" />
<line x1="604.0" y1="184.0" x2="604.0" y2="189.0" stroke="#222" stroke-width="1" />
<line x1="622.3" y1="184.0" x2="622.3" y2="189.0" stroke="#222" stroke-width="1" />
<line x1="640.2" y1="184.0" x2="640.2" y2="189.0" stroke="#222" stroke-width="1" />
<text x="586.3" y="197.5" font-size="8.2" text-anchor="middle" fill="#222" >C</text>
<text x="604.0" y="197.5" font-size="8.2" text-anchor="middle" fill="#222" >Sl</text>
<text x="622.3" y="197.5" font-size="8.2" text-anchor="middle" fill="#222" >Sd</text>
<text x="640.2" y="197.5" font-size="8.2" text-anchor="middle" fill="#222" >Cb/Bd</text>
<text x="557.0" y="68.4" font-size="11" text-anchor="end" fill="#222" >0</text>
<text x="557.0" y="190.5" font-size="11" text-anchor="end" fill="#222" >5</text>
<text x="0" y="0" font-size="11" text-anchor="middle" fill="#222" transform="translate(556,126) rotate(-90)">Depth (m)</text>
<text x="645.0" y="76.3" font-size="7.5" text-anchor="start" fill="#222" >Unit 1</text>
<text x="645.0" y="112.3" font-size="7.5" text-anchor="start" fill="#222" >Unit 2</text>
<text x="645.0" y="144.0" font-size="7.5" text-anchor="start" fill="#222" >Unit 3a</text>
<text x="645.0" y="168.2" font-size="7.5" text-anchor="start" fill="#222" >Unit 3b</text>
<text x="645.0" y="186.0" font-size="7.5" text-anchor="start" fill="#222" >Unit 3c</text>
<text x="625.5" y="174.7" font-size="24.5" text-anchor="start" fill="#222" >d</text>
<polygon points="568.3,219.6 638.0,219.6 639.5,223.0 638.5,227.0 639.5,231.0 639.0,233.6 568.3,233.6" fill="#765a40" />
<polygon points="568.3,233.6 620.0,233.6 621.0,238.0 620.3,243.0 621.0,249.0 568.3,249.0" fill="#f9dc14" />
<polygon points="568.3,249.0 616.7,249.0 612.0,255.0 607.0,259.0 608.0,263.0 613.0,268.0 615.0,271.0 612.0,275.5 604.0,278.3 568.3,278.3" fill="#9d9d9d" />
<polygon points="568.3,278.3 599.0,278.3 598.5,282.0 599.5,286.0 598.5,291.0 568.3,291.0" fill="#151515" />
<polygon points="568.3,291.0 597.0,291.0 595.0,295.0 597.0,299.0 597.5,305.0 595.0,309.7 568.3,309.7" fill="#9d9d9d" />
<line x1="567.8" y1="219.6" x2="567.8" y2="342.1" stroke="#222" stroke-width="1.2" />
<line x1="558.0" y1="219.6" x2="567.8" y2="219.6" stroke="#222" stroke-width="1.1" />
<line x1="564.6" y1="231.8" x2="567.8" y2="231.8" stroke="#222" stroke-width="1.1" />
<line x1="564.6" y1="244.1" x2="567.8" y2="244.1" stroke="#222" stroke-width="1.1" />
<line x1="564.6" y1="256.4" x2="567.8" y2="256.4" stroke="#222" stroke-width="1.1" />
<line x1="564.6" y1="268.6" x2="567.8" y2="268.6" stroke="#222" stroke-width="1.1" />
<line x1="564.6" y1="280.9" x2="567.8" y2="280.9" stroke="#222" stroke-width="1.1" />
<line x1="564.6" y1="293.1" x2="567.8" y2="293.1" stroke="#222" stroke-width="1.1" />
<line x1="564.6" y1="305.4" x2="567.8" y2="305.4" stroke="#222" stroke-width="1.1" />
<line x1="564.6" y1="317.6" x2="567.8" y2="317.6" stroke="#222" stroke-width="1.1" />
<line x1="564.6" y1="329.9" x2="567.8" y2="329.9" stroke="#222" stroke-width="1.1" />
<line x1="558.0" y1="342.1" x2="567.8" y2="342.1" stroke="#222" stroke-width="1.1" />
<line x1="567.8" y1="342.1" x2="640.2" y2="342.1" stroke="#222" stroke-width="1.2" />
<line x1="586.3" y1="339.6" x2="586.3" y2="344.6" stroke="#222" stroke-width="1" />
<line x1="604.0" y1="339.6" x2="604.0" y2="344.6" stroke="#222" stroke-width="1" />
<line x1="622.3" y1="339.6" x2="622.3" y2="344.6" stroke="#222" stroke-width="1" />
<line x1="640.2" y1="339.6" x2="640.2" y2="344.6" stroke="#222" stroke-width="1" />
<text x="586.3" y="353.1" font-size="8.2" text-anchor="middle" fill="#222" >C</text>
<text x="604.0" y="353.1" font-size="8.2" text-anchor="middle" fill="#222" >Sl</text>
<text x="622.3" y="353.1" font-size="8.2" text-anchor="middle" fill="#222" >Sd</text>
<text x="640.2" y="353.1" font-size="8.2" text-anchor="middle" fill="#222" >Cb/Bd</text>
<text x="557.0" y="223.6" font-size="11" text-anchor="end" fill="#222" >0</text>
<text x="557.0" y="346.1" font-size="11" text-anchor="end" fill="#222" >5</text>
<text x="0" y="0" font-size="11" text-anchor="middle" fill="#222" transform="translate(556,281) rotate(-90)">Depth (m)</text>
<text x="645.6" y="229.3" font-size="7.5" text-anchor="start" fill="#222" >Unit 1</text>
<text x="645.6" y="244.1" font-size="7.5" text-anchor="start" fill="#222" >Unit 2</text>
<text x="645.6" y="267.7" font-size="7.5" text-anchor="start" fill="#222" >Unit 3a</text>
<text x="645.6" y="287.5" font-size="7.5" text-anchor="start" fill="#222" >Unit 3b</text>
<text x="645.6" y="304.7" font-size="7.5" text-anchor="start" fill="#222" >Unit 3c</text>
<text x="625.5" y="340.0" font-size="24.5" text-anchor="start" fill="#222" >e</text>
<polygon points="39.4,423.9 300.0,424.0 308.0,424.0 316.0,424.1 324.0,424.2 332.0,424.3 340.0,424.5 348.0,424.7 356.0,424.8 364.0,425.0 372.0,425.3 380.0,425.7 388.0,426.1 396.0,426.6 404.0,427.1 412.0,428.1 420.0,429.3 428.0,430.6 436.0,432.0 444.0,433.6 452.0,435.3 460.0,436.9 468.0,438.3 476.0,439.7 484.0,441.0 492.0,442.3 500.0,443.6 508.0,444.8 516.0,445.9 524.0,447.1 532.0,448.2 540.0,449.3 548.0,450.3 556.0,451.4 564.0,452.4 572.0,453.4 580.0,454.4 585.0,455.0 588.5,456.8 590.3,460.0 596.8,514.4 595.2,514.4 586.0,469.3 586.0,467.0 557.7,455.6 491.2,443.8 460.6,442.4 416.8,441.5 358.4,440.6 309.3,440.0 253.0,430.7 101.7,428.3 39.4,428.2" fill="#765a40" />
<polygon points="101.7,428.3 253.0,430.7 309.3,440.0 309.3,454.7 252.4,455.3 101.7,432.2" fill="#f9dc14" />
<polygon points="101.7,432.2 252.4,455.3 309.3,454.7 309.3,457.0 252.4,458.5 101.7,434.0" fill="#9d9d9d" />
<polygon points="101.7,434.0 252.4,458.5 309.3,457.0 309.3,466.6 252.4,466.6 101.7,436.7" fill="#151515" />
<polygon points="252.4,466.6 309.3,466.6 309.3,469.6 252.4,469.8" fill="#9d9d9d" />
<polygon points="252.4,469.8 309.3,469.6 309.3,471.8 252.4,472.5" fill="#d49862" />
<polygon points="252.4,472.5 309.3,471.8 309.3,476.0 252.4,477.8" fill="#ef6410" />
<polyline points="101.7,432.2 252.4,455.3 309.3,454.7" fill="none" stroke="#3a3a3a" stroke-width="0.6" stroke-dasharray="1.6,1.4"/>
<polyline points="252.4,469.8 309.3,469.6" fill="none" stroke="#3a3a3a" stroke-width="0.6" stroke-dasharray="1.6,1.4"/>
<polyline points="252.4,472.5 309.3,471.8" fill="none" stroke="#3a3a3a" stroke-width="0.6" stroke-dasharray="1.6,1.4"/>
<rect x="492.3" y="443.8" width="5.8" height="9.2" fill="#f2c318"/>
<rect x="492.3" y="453" width="5.8" height="8.6" fill="#ee6a10"/>
<rect x="492.3" y="461.6" width="5.8" height="10.6" fill="#f2c318"/>
<text x="491.0" y="451.9" font-size="8" text-anchor="end" fill="#222" letter-spacing="0.85">LOESS</text>
<text x="491.0" y="460.7" font-size="8" text-anchor="end" fill="#222" letter-spacing="0.85">PALEOSOL</text>
<text x="491.0" y="469.6" font-size="8" text-anchor="end" fill="#222" letter-spacing="0.85">LOESS</text>
<clipPath id="bk1"><polygon points="253.2,483.8 597.2,514.0 681.0,524.5 681.0,536.5 625.0,540.8 253.2,541.2"/></clipPath>
<g clip-path="url(#bk1)">
<polygon points="253.2,483.8 597.2,514.0 681.0,524.5 681.0,536.5 625.0,540.8 253.2,541.2" fill="#fff"/>
<path d="M250.0 440.2L684.0 461.9M263.1 440.9L263.4 450.1M281.0 441.8L281.3 451.0M298.9 442.7L299.2 451.9M316.8 443.6L317.1 452.8M334.7 444.5L335.0 453.7M352.6 445.4L352.9 454.6M370.5 446.3L370.8 455.5M388.4 447.2L388.7 456.4M406.3 448.1L406.6 457.3M424.2 449.0L424.5 458.2M442.1 449.8L442.4 459.0M460.0 450.7L460.3 459.9M477.9 451.6L478.2 460.8M495.8 452.5L496.1 461.7M513.7 453.4L514.0 462.6M531.6 454.3L531.9 463.5M549.5 455.2L549.8 464.4M567.4 456.1L567.7 465.3M585.3 457.0L585.6 466.2M603.2 457.9L603.5 467.1M621.1 458.8L621.4 468.0M639.0 459.7L639.3 468.9M656.9 460.6L657.2 469.8M674.8 461.5L675.1 470.7M250.0 449.4L684.0 471.1M254.2 449.6L254.5 458.8M272.1 450.5L272.4 459.7M290.0 451.4L290.3 460.6M307.9 452.3L308.2 461.5M325.8 453.2L326.1 462.4M343.7 454.1L344.0 463.3M361.6 455.0L361.9 464.2M379.5 455.9L379.8 465.1M397.4 456.8L397.7 466.0M415.3 457.7L415.6 466.9M433.2 458.6L433.5 467.8M451.1 459.5L451.4 468.7M469.0 460.4L469.3 469.6M486.9 461.3L487.2 470.5M504.8 462.2L505.1 471.4M522.7 463.1L523.0 472.3M540.6 464.0L540.9 473.2M558.5 464.9L558.8 474.1M576.4 465.8L576.7 475.0M594.3 466.7L594.6 475.9M612.2 467.5L612.5 476.7M630.1 468.4L630.4 477.6M648.0 469.3L648.3 478.5M665.9 470.2L666.2 479.4M683.8 471.1L684.1 480.3M250.0 458.6L684.0 480.3M263.1 459.3L263.4 468.5M281.0 460.2L281.3 469.4M298.9 461.1L299.2 470.3M316.8 462.0L317.1 471.2M334.7 462.9L335.0 472.1M352.6 463.8L352.9 473.0M370.5 464.7L370.8 473.9M388.4 465.6L388.7 474.8M406.3 466.5L406.6 475.7M424.2 467.4L424.5 476.6M442.1 468.2L442.4 477.4M460.0 469.1L460.3 478.3M477.9 470.0L478.2 479.2M495.8 470.9L496.1 480.1M513.7 471.8L514.0 481.0M531.6 472.7L531.9 481.9M549.5 473.6L549.8 482.8M567.4 474.5L567.7 483.7M585.3 475.4L585.6 484.6M603.2 476.3L603.5 485.5M621.1 477.2L621.4 486.4M639.0 478.1L639.3 487.3M656.9 479.0L657.2 488.2M674.8 479.9L675.1 489.1M250.0 467.8L684.0 489.5M254.2 468.1L254.5 477.2M272.1 468.9L272.4 478.1M290.0 469.8L290.3 479.0M307.9 470.7L308.2 479.9M325.8 471.6L326.1 480.8M343.7 472.5L344.0 481.7M361.6 473.4L361.9 482.6M379.5 474.3L379.8 483.5M397.4 475.2L397.7 484.4M415.3 476.1L415.6 485.3M433.2 477.0L433.5 486.2M451.1 477.9L451.4 487.1M469.0 478.8L469.3 488.0M486.9 479.7L487.2 488.9M504.8 480.6L505.1 489.8M522.7 481.5L523.0 490.7M540.6 482.4L540.9 491.6M558.5 483.3L558.8 492.5M576.4 484.2L576.7 493.4M594.3 485.1L594.6 494.3M612.2 485.9L612.5 495.1M630.1 486.8L630.4 496.0M648.0 487.7L648.3 496.9M665.9 488.6L666.2 497.8M683.8 489.5L684.1 498.7M250.0 477.0L684.0 498.7M263.1 477.7L263.4 486.9M281.0 478.6L281.3 487.8M298.9 479.5L299.2 488.7M316.8 480.4L317.1 489.6M334.7 481.3L335.0 490.5M352.6 482.2L352.9 491.4M370.5 483.1L370.8 492.3M388.4 484.0L388.7 493.2M406.3 484.9L406.6 494.1M424.2 485.8L424.5 495.0M442.1 486.6L442.4 495.8M460.0 487.5L460.3 496.7M477.9 488.4L478.2 497.6M495.8 489.3L496.1 498.5M513.7 490.2L514.0 499.4M531.6 491.1L531.9 500.3M549.5 492.0L549.8 501.2M567.4 492.9L567.7 502.1M585.3 493.8L585.6 503.0M603.2 494.7L603.5 503.9M621.1 495.6L621.4 504.8M639.0 496.5L639.3 505.7M656.9 497.4L657.2 506.6M674.8 498.3L675.1 507.5M250.0 486.2L684.0 507.9M254.2 486.4L254.5 495.6M272.1 487.3L272.4 496.5M290.0 488.2L290.3 497.4M307.9 489.1L308.2 498.3M325.8 490.0L326.1 499.2M343.7 490.9L344.0 500.1M361.6 491.8L361.9 501.0M379.5 492.7L379.8 501.9M397.4 493.6L397.7 502.8M415.3 494.5L415.6 503.7M433.2 495.4L433.5 504.6M451.1 496.3L451.4 505.5M469.0 497.2L469.3 506.4M486.9 498.1L487.2 507.3M504.8 499.0L505.1 508.2M522.7 499.9L523.0 509.1M540.6 500.8L540.9 510.0M558.5 501.7L558.8 510.9M576.4 502.6L576.7 511.8M594.3 503.5L594.6 512.7M612.2 504.3L612.5 513.5M630.1 505.2L630.4 514.4M648.0 506.1L648.3 515.3M665.9 507.0L666.2 516.2M683.8 507.9L684.1 517.1M250.0 495.4L684.0 517.1M263.1 496.1L263.4 505.3M281.0 497.0L281.3 506.2M298.9 497.9L299.2 507.1M316.8 498.8L317.1 508.0M334.7 499.7L335.0 508.9M352.6 500.6L352.9 509.8M370.5 501.5L370.8 510.7M388.4 502.4L388.7 511.6M406.3 503.3L406.6 512.5M424.2 504.2L424.5 513.4M442.1 505.0L442.4 514.2M460.0 505.9L460.3 515.1M477.9 506.8L478.2 516.0M495.8 507.7L496.1 516.9M513.7 508.6L514.0 517.8M531.6 509.5L531.9 518.7M549.5 510.4L549.8 519.6M567.4 511.3L567.7 520.5M585.3 512.2L585.6 521.4M603.2 513.1L603.5 522.3M621.1 514.0L621.4 523.2M639.0 514.9L639.3 524.1M656.9 515.8L657.2 525.0M674.8 516.7L675.1 525.9M250.0 504.6L684.0 526.3M254.2 504.8L254.5 514.0M272.1 505.7L272.4 514.9M290.0 506.6L290.3 515.8M307.9 507.5L308.2 516.7M325.8 508.4L326.1 517.6M343.7 509.3L344.0 518.5M361.6 510.2L361.9 519.4M379.5 511.1L379.8 520.3M397.4 512.0L397.7 521.2M415.3 512.9L415.6 522.1M433.2 513.8L433.5 523.0M451.1 514.7L451.4 523.9M469.0 515.6L469.3 524.8M486.9 516.5L487.2 525.7M504.8 517.4L505.1 526.6M522.7 518.3L523.0 527.5M540.6 519.2L540.9 528.4M558.5 520.1L558.8 529.3M576.4 521.0L576.7 530.2M594.3 521.9L594.6 531.1M612.2 522.7L612.5 531.9M630.1 523.6L630.4 532.8M648.0 524.5L648.3 533.7M665.9 525.4L666.2 534.6M683.8 526.3L684.1 535.5M250.0 513.8L684.0 535.5M263.1 514.5L263.4 523.7M281.0 515.4L281.3 524.6M298.9 516.3L299.2 525.5M316.8 517.2L317.1 526.4M334.7 518.1L335.0 527.3M352.6 519.0L352.9 528.2M370.5 519.9L370.8 529.1M388.4 520.8L388.7 530.0M406.3 521.7L406.6 530.9M424.2 522.6L424.5 531.8M442.1 523.4L442.4 532.6M460.0 524.3L460.3 533.5M477.9 525.2L478.2 534.4M495.8 526.1L496.1 535.3M513.7 527.0L514.0 536.2M531.6 527.9L531.9 537.1M549.5 528.8L549.8 538.0M567.4 529.7L567.7 538.9M585.3 530.6L585.6 539.8M603.2 531.5L603.5 540.7M621.1 532.4L621.4 541.6M639.0 533.3L639.3 542.5M656.9 534.2L657.2 543.4M674.8 535.1L675.1 544.3M250.0 523.0L684.0 544.7M254.2 523.2L254.5 532.4M272.1 524.1L272.4 533.3M290.0 525.0L290.3 534.2M307.9 525.9L308.2 535.1M325.8 526.8L326.1 536.0M343.7 527.7L344.0 536.9M361.6 528.6L361.9 537.8M379.5 529.5L379.8 538.7M397.4 530.4L397.7 539.6M415.3 531.3L415.6 540.5M433.2 532.2L433.5 541.4M451.1 533.1L451.4 542.3M469.0 534.0L469.3 543.2M486.9 534.9L487.2 544.1M504.8 535.8L505.1 545.0M522.7 536.7L523.0 545.9M540.6 537.6L540.9 546.8M558.5 538.5L558.8 547.7M576.4 539.4L576.7 548.6M594.3 540.3L594.6 549.5M612.2 541.1L612.5 550.3M630.1 542.0L630.4 551.2M648.0 542.9L648.3 552.1M665.9 543.8L666.2 553.0M683.8 544.7L684.1 553.9M250.0 532.2L684.0 553.9M263.1 532.9L263.4 542.1M281.0 533.8L281.3 543.0M298.9 534.7L299.2 543.9M316.8 535.6L317.1 544.8M334.7 536.5L335.0 545.7M352.6 537.4L352.9 546.6M370.5 538.3L370.8 547.5M388.4 539.2L388.7 548.4M406.3 540.1L406.6 549.3M424.2 541.0L424.5 550.2M442.1 541.8L442.4 551.0M460.0 542.7L460.3 551.9M477.9 543.6L478.2 552.8M495.8 544.5L496.1 553.7M513.7 545.4L514.0 554.6M531.6 546.3L531.9 555.5M549.5 547.2L549.8 556.4M567.4 548.1L567.7 557.3M585.3 549.0L585.6 558.2M603.2 549.9L603.5 559.1M621.1 550.8L621.4 560.0M639.0 551.7L639.3 560.9M656.9 552.6L657.2 561.8M674.8 553.5L675.1 562.7M250.0 541.4L684.0 563.1M254.2 541.6L254.5 550.9M272.1 542.5L272.4 551.7M290.0 543.4L290.3 552.6M307.9 544.3L308.2 553.5M325.8 545.2L326.1 554.4M343.7 546.1L344.0 555.3M361.6 547.0L361.9 556.2M379.5 547.9L379.8 557.1M397.4 548.8L397.7 558.0M415.3 549.7L415.6 558.9M433.2 550.6L433.5 559.8M451.1 551.5L451.4 560.7M469.0 552.4L469.3 561.6M486.9 553.3L487.2 562.5M504.8 554.2L505.1 563.4M522.7 555.1L523.0 564.3M540.6 556.0L540.9 565.2M558.5 556.9L558.8 566.1M576.4 557.8L576.7 567.0M594.3 558.7L594.6 567.9M612.2 559.5L612.5 568.8M630.1 560.4L630.4 569.6M648.0 561.3L648.3 570.5M665.9 562.2L666.2 571.4M683.8 563.1L684.1 572.3M250.0 550.6L684.0 572.3M263.1 551.3L263.4 560.5M281.0 552.2L281.3 561.4M298.9 553.1L299.2 562.3M316.8 554.0L317.1 563.2M334.7 554.9L335.0 564.1M352.6 555.8L352.9 565.0M370.5 556.7L370.8 565.9M388.4 557.6L388.7 566.8M406.3 558.5L406.6 567.7M424.2 559.4L424.5 568.6M442.1 560.2L442.4 569.4M460.0 561.1L460.3 570.3M477.9 562.0L478.2 571.2M495.8 562.9L496.1 572.1M513.7 563.8L514.0 573.0M531.6 564.7L531.9 573.9M549.5 565.6L549.8 574.8M567.4 566.5L567.7 575.7M585.3 567.4L585.6 576.6M603.2 568.3L603.5 577.5M621.1 569.2L621.4 578.4M639.0 570.1L639.3 579.3M656.9 571.0L657.2 580.2M674.8 571.9L675.1 581.1M250.0 559.8L684.0 581.5M254.2 560.0L254.5 569.2M272.1 560.9L272.4 570.1M290.0 561.8L290.3 571.0M307.9 562.7L308.2 571.9M325.8 563.6L326.1 572.8M343.7 564.5L344.0 573.7M361.6 565.4L361.9 574.6M379.5 566.3L379.8 575.5M397.4 567.2L397.7 576.4M415.3 568.1L415.6 577.3M433.2 569.0L433.5 578.2M451.1 569.9L451.4 579.1M469.0 570.8L469.3 580.0M486.9 571.7L487.2 580.9M504.8 572.6L505.1 581.8M522.7 573.5L523.0 582.7M540.6 574.4L540.9 583.6M558.5 575.3L558.8 584.5M576.4 576.2L576.7 585.4M594.3 577.1L594.6 586.3M612.2 577.9L612.5 587.1M630.1 578.8L630.4 588.0M648.0 579.7L648.3 588.9M665.9 580.6L666.2 589.8M683.8 581.5L684.1 590.7" stroke="#111" stroke-width="1.75" fill="none"/>
</g>
<line x1="253.2" y1="483.8" x2="253.2" y2="541.2" stroke="#111" stroke-width="1.4" />
<line x1="253.2" y1="541.2" x2="625.0" y2="540.8" stroke="#111" stroke-width="1.4" />
<line x1="253.2" y1="483.8" x2="597.2" y2="514.0" stroke="#333" stroke-width="0.8" stroke-dasharray="2,2.5"/>
<polygon points="597.2,514.0 681.0,514.6 681.0,524.5" fill="#19a2d6" />
<clipPath id="bk2"><polygon points="557.7,456.0 586.0,467.0 586.0,472.6 557.7,460.8"/></clipPath>
<g clip-path="url(#bk2)">
<polygon points="557.7,456.0 586.0,467.0 586.0,472.6 557.7,460.8" fill="#fff"/>
<path d="M555.0 444.6L590.0 444.6M562.2 444.6L562.5 448.6M570.8 444.6L571.0 448.6M579.2 444.6L579.5 448.6M587.8 444.6L588.0 448.6M555.0 448.6L590.0 448.6M558.0 448.6L558.3 452.6M566.5 448.6L566.8 452.6M575.0 448.6L575.3 452.6M583.5 448.6L583.8 452.6M555.0 452.6L590.0 452.6M562.2 452.6L562.5 456.6M570.8 452.6L571.0 456.6M579.2 452.6L579.5 456.6M587.8 452.6L588.0 456.6M555.0 456.6L590.0 456.6M558.0 456.6L558.3 460.6M566.5 456.6L566.8 460.6M575.0 456.6L575.3 460.6M583.5 456.6L583.8 460.6M555.0 460.6L590.0 460.6M562.2 460.6L562.5 464.6M570.8 460.6L571.0 464.6M579.2 460.6L579.5 464.6M587.8 460.6L588.0 464.6M555.0 464.6L590.0 464.6M558.0 464.6L558.3 468.6M566.5 464.6L566.8 468.6M575.0 464.6L575.3 468.6M583.5 464.6L583.8 468.6M555.0 468.6L590.0 468.6M562.2 468.6L562.5 472.6M570.8 468.6L571.0 472.6M579.2 468.6L579.5 472.6M587.8 468.6L588.0 472.6M555.0 472.6L590.0 472.6M558.0 472.6L558.3 476.6M566.5 472.6L566.8 476.6M575.0 472.6L575.3 476.6M583.5 472.6L583.8 476.6M555.0 476.6L590.0 476.6M562.2 476.6L562.5 480.6M570.8 476.6L571.0 480.6M579.2 476.6L579.5 480.6M587.8 476.6L588.0 480.6M555.0 480.6L590.0 480.6M558.0 480.6L558.3 484.6M566.5 480.6L566.8 484.6M575.0 480.6L575.3 484.6M583.5 480.6L583.8 484.6" stroke="#111" stroke-width="0.9" fill="none"/>
</g>
<polyline points="557.7,456 557.7,460.8 586,472.6" fill="none" stroke="#111" stroke-width="0.9"/>
<text x="566.8" y="478.8" font-size="12" text-anchor="start" fill="#222" >?</text>
<line x1="35.5" y1="417.3" x2="35.5" y2="515.2" stroke="#222" stroke-width="1.3" />
<line x1="29.5" y1="515.2" x2="35.5" y2="515.2" stroke="#222" stroke-width="1.1" />
<line x1="32.3" y1="506.3" x2="35.5" y2="506.3" stroke="#222" stroke-width="1.1" />
<line x1="32.3" y1="497.4" x2="35.5" y2="497.4" stroke="#222" stroke-width="1.1" />
<line x1="32.3" y1="488.5" x2="35.5" y2="488.5" stroke="#222" stroke-width="1.1" />
<line x1="32.3" y1="479.6" x2="35.5" y2="479.6" stroke="#222" stroke-width="1.1" />
<line x1="29.5" y1="470.7" x2="35.5" y2="470.7" stroke="#222" stroke-width="1.1" />
<line x1="32.3" y1="461.8" x2="35.5" y2="461.8" stroke="#222" stroke-width="1.1" />
<line x1="32.3" y1="452.9" x2="35.5" y2="452.9" stroke="#222" stroke-width="1.1" />
<line x1="32.3" y1="444.0" x2="35.5" y2="444.0" stroke="#222" stroke-width="1.1" />
<line x1="32.3" y1="435.1" x2="35.5" y2="435.1" stroke="#222" stroke-width="1.1" />
<line x1="29.5" y1="426.2" x2="35.5" y2="426.2" stroke="#222" stroke-width="1.1" />
<line x1="32.3" y1="417.3" x2="35.5" y2="417.3" stroke="#222" stroke-width="1.1" />
<text x="28.5" y="430.0" font-size="11" text-anchor="end" fill="#222" >10</text>
<text x="28.5" y="474.5" font-size="11" text-anchor="end" fill="#222" >5</text>
<text x="28.5" y="519.0" font-size="11" text-anchor="end" fill="#222" >0 m</text>
<text x="0" y="0" font-size="11.5" text-anchor="middle" fill="#222" transform="translate(13,465) rotate(-90)">Altitude (m)</text>
<line x1="39.9" y1="548.4" x2="596.8" y2="548.4" stroke="#222" stroke-width="1.4" />
<line x1="39.9" y1="548.4" x2="39.9" y2="556.0" stroke="#222" stroke-width="1.3" />
<line x1="60.5" y1="548.4" x2="60.5" y2="554.2" stroke="#222" stroke-width="1.3" />
<line x1="81.2" y1="548.4" x2="81.2" y2="554.2" stroke="#222" stroke-width="1.3" />
<line x1="101.8" y1="548.4" x2="101.8" y2="554.2" stroke="#222" stroke-width="1.3" />
<line x1="122.4" y1="548.4" x2="122.4" y2="554.2" stroke="#222" stroke-width="1.3" />
<line x1="143.0" y1="548.4" x2="143.0" y2="556.0" stroke="#222" stroke-width="1.3" />
<line x1="163.7" y1="548.4" x2="163.7" y2="554.2" stroke="#222" stroke-width="1.3" />
<line x1="184.3" y1="548.4" x2="184.3" y2="554.2" stroke="#222" stroke-width="1.3" />
<line x1="204.9" y1="548.4" x2="204.9" y2="554.2" stroke="#222" stroke-width="1.3" />
<line x1="225.6" y1="548.4" x2="225.6" y2="554.2" stroke="#222" stroke-width="1.3" />
<line x1="246.2" y1="548.4" x2="246.2" y2="556.0" stroke="#222" stroke-width="1.3" />
<line x1="266.8" y1="548.4" x2="266.8" y2="554.2" stroke="#222" stroke-width="1.3" />
<line x1="287.5" y1="548.4" x2="287.5" y2="554.2" stroke="#222" stroke-width="1.3" />
<line x1="308.1" y1="548.4" x2="308.1" y2="554.2" stroke="#222" stroke-width="1.3" />
<line x1="328.7" y1="548.4" x2="328.7" y2="554.2" stroke="#222" stroke-width="1.3" />
<line x1="349.3" y1="548.4" x2="349.3" y2="556.0" stroke="#222" stroke-width="1.3" />
<line x1="370.0" y1="548.4" x2="370.0" y2="554.2" stroke="#222" stroke-width="1.3" />
<line x1="390.6" y1="548.4" x2="390.6" y2="554.2" stroke="#222" stroke-width="1.3" />
<line x1="411.2" y1="548.4" x2="411.2" y2="554.2" stroke="#222" stroke-width="1.3" />
<line x1="431.9" y1="548.4" x2="431.9" y2="554.2" stroke="#222" stroke-width="1.3" />
<line x1="452.5" y1="548.4" x2="452.5" y2="556.0" stroke="#222" stroke-width="1.3" />
<line x1="473.1" y1="548.4" x2="473.1" y2="554.2" stroke="#222" stroke-width="1.3" />
<line x1="493.8" y1="548.4" x2="493.8" y2="554.2" stroke="#222" stroke-width="1.3" />
<line x1="514.4" y1="548.4" x2="514.4" y2="554.2" stroke="#222" stroke-width="1.3" />
<line x1="535.0" y1="548.4" x2="535.0" y2="554.2" stroke="#222" stroke-width="1.3" />
<line x1="555.6" y1="548.4" x2="555.6" y2="556.0" stroke="#222" stroke-width="1.3" />
<line x1="576.3" y1="548.4" x2="576.3" y2="554.2" stroke="#222" stroke-width="1.3" />
<line x1="596.9" y1="548.4" x2="596.9" y2="554.2" stroke="#222" stroke-width="1.3" />
<text x="37.5" y="570.0" font-size="10.5" text-anchor="start" fill="#222" textLength="13" lengthAdjust="spacingAndGlyphs">0m</text>
<text x="143.1" y="570.0" font-size="10.5" text-anchor="middle" fill="#222" textLength="10.2" lengthAdjust="spacingAndGlyphs">50</text>
<text x="246.2" y="570.0" font-size="10.5" text-anchor="middle" fill="#222" textLength="15.3" lengthAdjust="spacingAndGlyphs">100</text>
<text x="349.4" y="570.0" font-size="10.5" text-anchor="middle" fill="#222" textLength="15.3" lengthAdjust="spacingAndGlyphs">150</text>
<text x="452.5" y="570.0" font-size="10.5" text-anchor="middle" fill="#222" textLength="15.3" lengthAdjust="spacingAndGlyphs">200</text>
<text x="555.6" y="570.0" font-size="10.5" text-anchor="middle" fill="#222" textLength="15.3" lengthAdjust="spacingAndGlyphs">250</text>
<text x="19.0" y="410.0" font-size="18" text-anchor="start" fill="#222" >W</text>
<text x="667.0" y="409.4" font-size="18" text-anchor="start" fill="#222" >E</text>
<text x="667.3" y="512.6" font-size="21.5" text-anchor="start" fill="#222" >c</text>
<line x1="38.8" y1="413.3" x2="44.5" y2="413.3" stroke="#222" stroke-width="0.9" />
<line x1="38.8" y1="413.3" x2="38.8" y2="419.0" stroke="#222" stroke-width="0.9" />
<polygon points="37.2,418.2 40.4,418.2 38.8,421.5" fill="#222"/>
<text x="45.0" y="418.0" font-size="11.2" text-anchor="start" fill="#222" >TSC 12</text>
<line x1="101.3" y1="413.3" x2="106.5" y2="413.3" stroke="#222" stroke-width="0.9" />
<line x1="101.3" y1="413.3" x2="101.3" y2="419.0" stroke="#222" stroke-width="0.9" />
<polygon points="99.7,418.2 102.9,418.2 101.3,421.5" fill="#222"/>
<text x="106.9" y="418.0" font-size="11.2" text-anchor="start" fill="#222" >TSC 11</text>
<line x1="252.3" y1="413.3" x2="257.8" y2="413.3" stroke="#222" stroke-width="0.9" />
<line x1="252.3" y1="413.3" x2="252.3" y2="419.0" stroke="#222" stroke-width="0.9" />
<polygon points="250.7,418.2 253.9,418.2 252.3,421.5" fill="#222"/>
<text x="258.3" y="418.0" font-size="11.3" text-anchor="start" fill="#222" >TSC 6</text>
<line x1="308.8" y1="413.3" x2="313.0" y2="413.3" stroke="#222" stroke-width="0.9" />
<line x1="308.8" y1="413.3" x2="308.8" y2="419.0" stroke="#222" stroke-width="0.9" />
<polygon points="307.2,418.2 310.4,418.2 308.8,421.5" fill="#222"/>
<text x="313.3" y="418.0" font-size="11.3" text-anchor="start" fill="#222" >TSC 8</text>
<text x="447.4" y="418.0" font-size="11.2" text-anchor="start" fill="#222" >TSC 13</text>
<line x1="486.5" y1="413.3" x2="492.0" y2="413.3" stroke="#222" stroke-width="0.9" />
<line x1="492.0" y1="413.3" x2="492.0" y2="419.0" stroke="#222" stroke-width="0.9" />
<polygon points="490.4,418.2 493.6,418.2 492.0,421.5" fill="#222"/>
<text x="542.4" y="418.0" font-size="11.2" text-anchor="start" fill="#222" >TSC 14</text>
<line x1="581.5" y1="413.3" x2="586.3" y2="413.3" stroke="#222" stroke-width="0.9" />
<line x1="586.3" y1="413.3" x2="586.3" y2="435.0" stroke="#222" stroke-width="0.9" />
<polygon points="584.7,434.2 587.9,434.2 586.3,437.5" fill="#222"/>
<text x="513.6" y="443.0" font-size="11.2" text-anchor="start" fill="#222" >TSC 19</text>
<line x1="552.0" y1="438.5" x2="557.5" y2="438.5" stroke="#222" stroke-width="0.9" />
<line x1="557.5" y1="438.5" x2="557.5" y2="444.5" stroke="#222" stroke-width="0.9" />
<polygon points="555.9,443.7 559.1,443.7 557.5,447.0" fill="#222"/>
</svg></body></html>
